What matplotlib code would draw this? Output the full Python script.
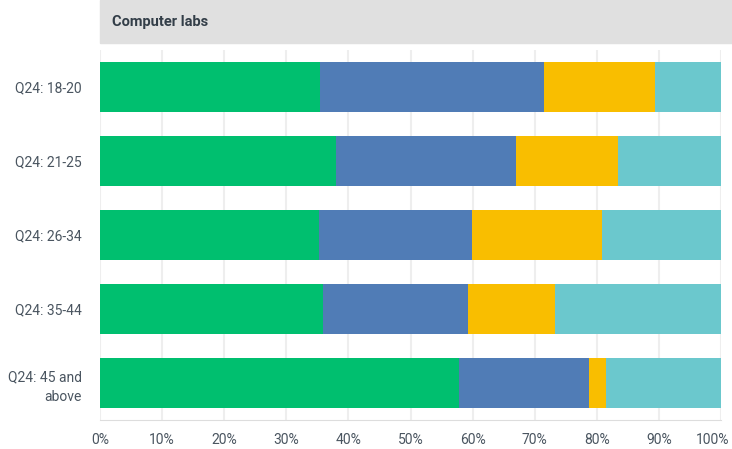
import matplotlib.pyplot as plt
import matplotlib.transforms as mtrans
import numpy as np

categories = ["Q24: 18-20", "Q24: 21-25", "Q24: 26-34", "Q24: 35-44", "Q24: 45 and\nabove"]
s1 = [35.4, 38.0, 35.3, 35.9, 57.8]
s2 = [36.1, 29.0, 24.6, 23.4, 20.9]
s3 = [17.9, 16.4, 20.9, 14.0, 2.8]
s4 = [10.6, 16.6, 19.2, 26.7, 18.5]
colors = ["#00bf6f", "#507cb6", "#f9be00", "#6bc8cd"]
title = "Computer labs"

plt.rcParams["font.family"] = ["Roboto", "DejaVu Sans"]

fig = plt.figure(figsize=(7.32, 4.49), dpi=100)
W, H = 732, 449
ax = fig.add_axes([100 / W, 1 - 420 / H, 621 / W, 370 / H])

# header strip
fig.patches.append(plt.Rectangle((100 / W, 1 - 43 / H), 632 / W, 43 / H,
                                 transform=fig.transFigure, color="#e0e0e0", zorder=0))
fig.text(112 / W, 1 - 22 / H, title, fontsize=10.5, fontweight="bold",
         color="#333e48", va="center", ha="left")

y = np.arange(len(categories))
left = np.zeros(len(categories))
for vals, c in zip([s1, s2, s3, s4], colors):
    ax.barh(y, vals, left=left, height=0.68, color=c, zorder=3)
    left += np.array(vals)

ax.set_xlim(0, 100)
ax.set_ylim(len(categories) - 0.5, -0.5)
ax.set_xticks(np.arange(0, 101, 10))
ax.set_xticklabels([f"{v}%" for v in range(0, 101, 10)])
ax.set_yticks(y)
ax.set_yticklabels(categories)
ax.grid(axis="x", color="#eeeeee", linewidth=1.5, zorder=0)
for s in ["top", "right", "left"]:
    ax.spines[s].set_visible(False)
ax.spines["bottom"].set_color("#dddddd")
ax.tick_params(axis="both", length=0, labelsize=10, colors="#4a5560")
ax.tick_params(axis="x", pad=9)
ax.tick_params(axis="y", pad=13)
for lab in ax.get_yticklabels():
    lab.set_multialignment("right")
    lab.set_linespacing(1.5)

# keep the last x label inside the figure
last = ax.get_xticklabels()[-1]
last.set_transform(last.get_transform() + mtrans.ScaledTranslation(-8 / 100, 0, fig.dpi_scale_trans))

fig.savefig("out.png", dpi=100)
